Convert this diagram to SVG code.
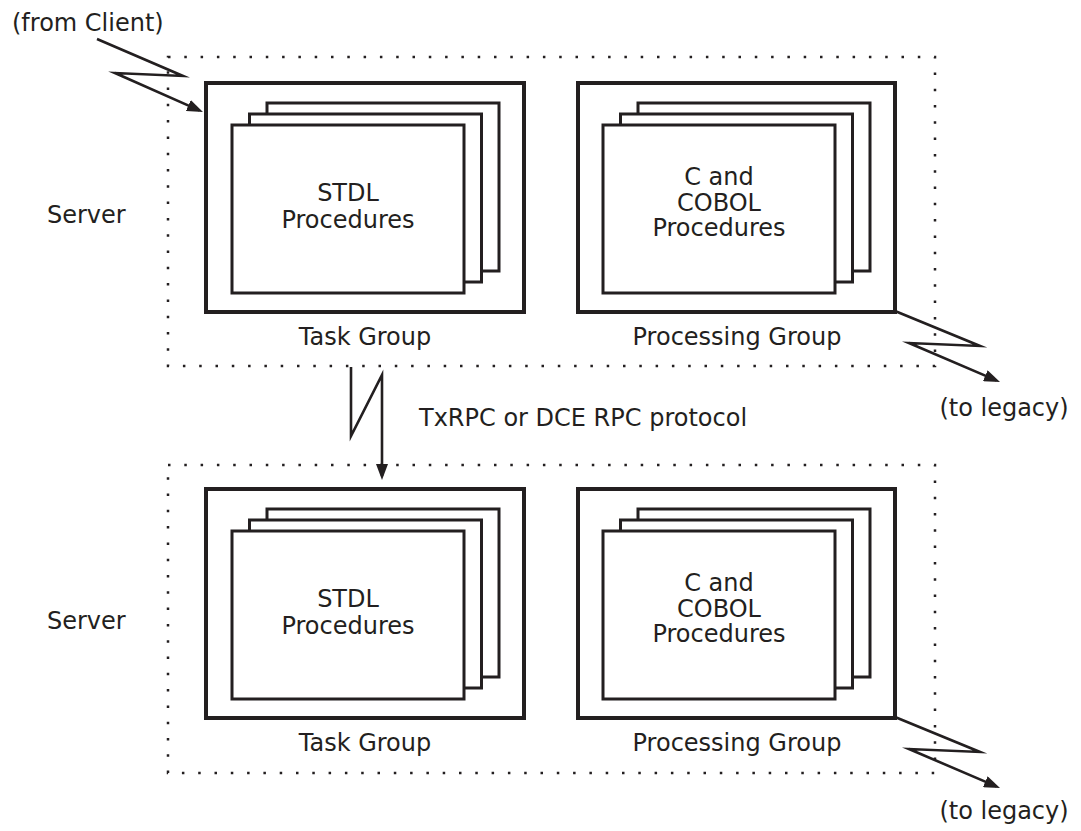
<svg xmlns="http://www.w3.org/2000/svg" width="1081" height="831" viewBox="0 0 1081 831">
<style>
.bg{fill:#ffffff}
.dot{fill:none;stroke:#231f20;stroke-width:2.5;stroke-dasharray:2.5 13.8}
.outer{fill:#ffffff;stroke:#231f20;stroke-width:4}
.card{fill:#ffffff;stroke:#231f20;stroke-width:3}
.conn{fill:none;stroke:#231f20;stroke-width:2.6;stroke-linejoin:miter;stroke-miterlimit:20}
text{font-family:"DejaVu Sans","Liberation Sans",sans-serif;font-size:24px;fill:#231f20}
.c{text-anchor:middle}
</style>
<defs>
<marker id="ah" viewBox="0 0 16 12" refX="12" refY="6" markerWidth="16" markerHeight="12" markerUnits="userSpaceOnUse" orient="auto">
<path d="M0,0 L16,6 L0,12 z" fill="#231f20"/>
</marker>
</defs>
<rect class="bg" x="0" y="0" width="1081" height="831"/>

<g id="server1">
<rect class="dot" x="168" y="57" width="767" height="309"/>
<text x="47" y="223">Server</text>
</g>
<g id="taskgroup1">
<rect class="outer" x="206" y="83" width="318" height="229"/>
<rect class="card" x="267" y="103" width="232" height="168"/>
<rect class="card" x="249.5" y="114" width="232" height="168"/>
<rect class="card" x="232" y="125" width="232" height="168"/>
<text class="c" x="348" y="201">STDL</text>
<text class="c" x="348" y="228">Procedures</text>
<text class="c" x="365" y="345">Task Group</text>
</g>
<g id="procgroup1">
<rect class="outer" x="578" y="83" width="317" height="229"/>
<rect class="card" x="638" y="103" width="232" height="168"/>
<rect class="card" x="620.5" y="114" width="232" height="168"/>
<rect class="card" x="603" y="125" width="232" height="168"/>
<text class="c" x="719" y="185">C and</text>
<text class="c" x="719" y="210.5">COBOL</text>
<text class="c" x="719" y="236">Procedures</text>
<text class="c" x="737" y="345">Processing Group</text>
</g>

<g id="server2">
<rect class="dot" x="168" y="465" width="767" height="308"/>
<text x="47" y="629">Server</text>
</g>
<g id="taskgroup2">
<rect class="outer" x="206" y="489" width="318" height="229"/>
<rect class="card" x="267" y="509" width="232" height="168"/>
<rect class="card" x="249.5" y="520" width="232" height="168"/>
<rect class="card" x="232" y="531" width="232" height="168"/>
<text class="c" x="348" y="607">STDL</text>
<text class="c" x="348" y="634">Procedures</text>
<text class="c" x="365" y="751">Task Group</text>
</g>
<g id="procgroup2">
<rect class="outer" x="578" y="489" width="317" height="229"/>
<rect class="card" x="638" y="509" width="232" height="168"/>
<rect class="card" x="620.5" y="520" width="232" height="168"/>
<rect class="card" x="603" y="531" width="232" height="168"/>
<text class="c" x="719" y="591">C and</text>
<text class="c" x="719" y="616.5">COBOL</text>
<text class="c" x="719" y="642">Procedures</text>
<text class="c" x="737" y="751">Processing Group</text>
</g>

<g id="labels">
<text x="12" y="31">(from Client)</text>
<text class="c" x="1004" y="416">(to legacy)</text>
<text class="c" x="1004" y="819">(to legacy)</text>
<text x="419" y="426">TxRPC or DCE RPC protocol</text>
</g>

<g id="connectors">
<polyline class="conn" points="97,39 183,76 115,73 199.3,110.4" marker-end="url(#ah)"/>
<polyline class="conn" points="895,311 980,346 909,343 996.3,380.4" marker-end="url(#ah)"/>
<polyline class="conn" points="895,717 980,752 909,749 996.3,786.4" marker-end="url(#ah)"/>
<polyline class="conn" points="351,367 351,436 382,375 382,476" marker-end="url(#ah)"/>
</g>
</svg>
